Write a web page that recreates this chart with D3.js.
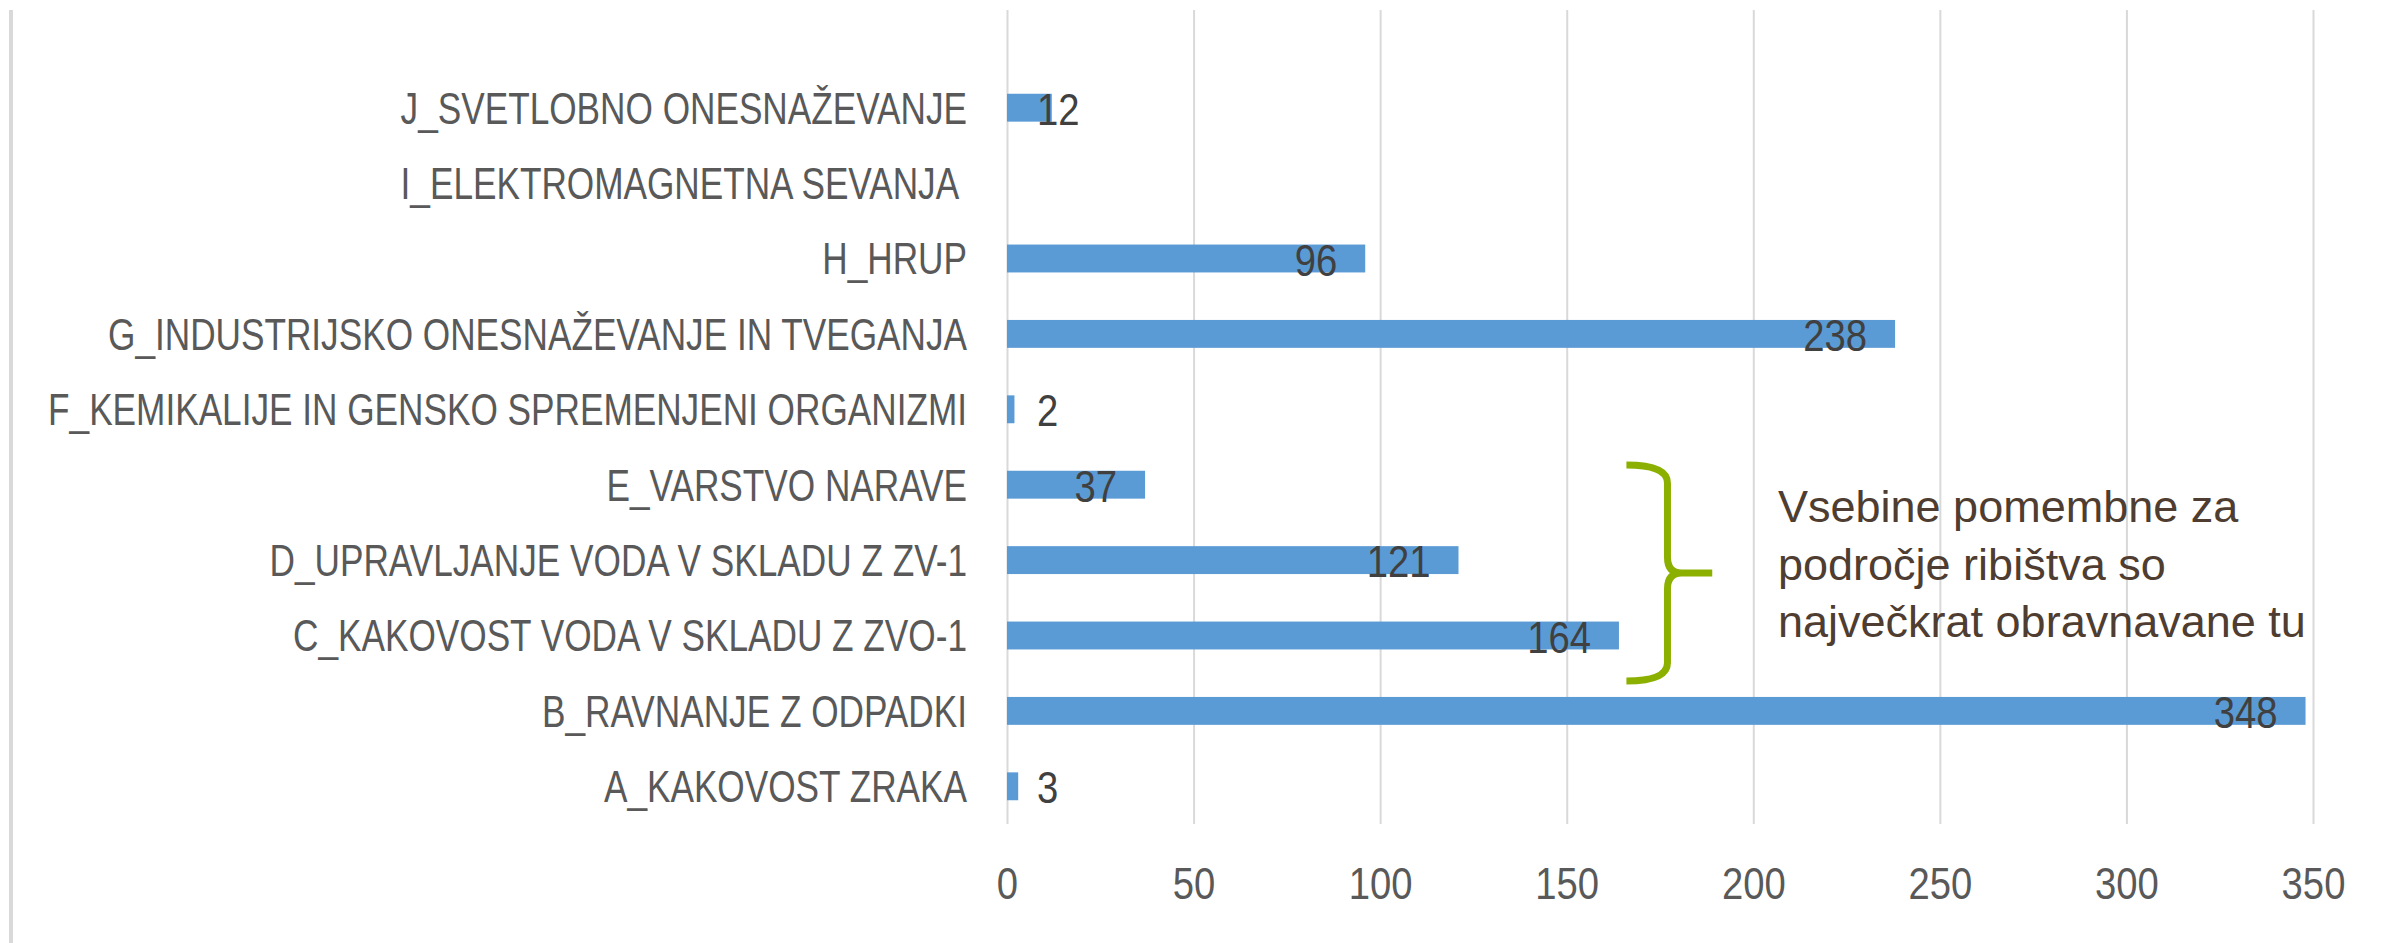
<!DOCTYPE html>
<html lang="en">
<head>
    <meta charset="UTF-8">
    <title>Vsebine po področjih</title>
    <script src="https://d3js.org/d3.v7.min.js"></script>
    <style>
        body { margin: 0; background: #fff; overflow: hidden; }
        text { white-space: pre; font-family: "Liberation Sans", Arial, sans-serif; }
        .cat-label { fill: #595959; font-size: 44px; }
        .tick-label { fill: #595959; font-size: 45px; }
        .value-label { fill: #404040; font-size: 45px; }
        .note { fill: #4e3d30; font-size: 45px; }
    </style>
</head>
<body>
    <div id="chart"></div>
    <script>
        // categories top to bottom, as in the picture
        const categories = [
            "J_SVETLOBNO ONESNAŽEVANJE",
            "I_ELEKTROMAGNETNA SEVANJA ",
            "H_HRUP",
            "G_INDUSTRIJSKO ONESNAŽEVANJE IN TVEGANJA",
            "F_KEMIKALIJE IN GENSKO SPREMENJENI ORGANIZMI",
            "E_VARSTVO NARAVE",
            "D_UPRAVLJANJE VODA V SKLADU Z ZV-1",
            "C_KAKOVOST VODA V SKLADU Z ZVO-1",
            "B_RAVNANJE Z ODPADKI",
            "A_KAKOVOST ZRAKA"
        ];
        const values = [12, null, 96, 238, 2, 37, 121, 164, 348, 3];
        const xTicks = [0, 50, 100, 150, 200, 250, 300, 350];
        const noteLines = [
            "Vsebine pomembne za",
            "področje ribištva so",
            "največkrat obravnavane tu"
        ];

        const width = 2382, height = 943;
        const plot = { left: 1007, right: 2313, top: 70, bottom: 824, gridTop: 10 };
        // the original font is a narrow one; squeeze the fallback sideways
        const labelSqueeze = 0.8, numberSqueeze = 0.85;

        const svg = d3.select("#chart").append("svg")
            .attr("width", width)
            .attr("height", height);

        svg.append("rect").attr("width", width).attr("height", height).attr("fill", "#fff");

        // outer frame line on the left
        svg.append("line")
            .attr("x1", 11).attr("x2", 11)
            .attr("y1", plot.gridTop).attr("y2", height)
            .attr("stroke", "#d9d9d9").attr("stroke-width", 4);

        const x = d3.scaleLinear().domain([0, 350]).range([plot.left, plot.right]);
        const y = d3.scaleBand().domain(categories)
            .range([plot.top, plot.bottom])
            .paddingInner(0.63).paddingOuter(0.315);

        // gridlines + tick labels
        const xAxis = svg.append("g")
            .attr("transform", `translate(0,${plot.bottom})`)
            .call(d3.axisBottom(x).tickValues(xTicks)
                .tickSize(-(plot.bottom - plot.gridTop))
                .tickPadding(43));
        xAxis.select(".domain").remove();
        xAxis.attr("font-size", null).attr("font-family", null);
        xAxis.selectAll(".tick line").attr("stroke", "#d9d9d9").attr("stroke-width", 2);
        xAxis.selectAll(".tick text")
            .attr("class", "tick-label")
            .attr("fill", null)
            .attr("transform", `scale(${numberSqueeze},1)`);

        // category labels
        svg.append("g").selectAll("g")
            .data(categories)
            .join("g")
            .attr("transform", d => `translate(${plot.left - 40},${y(d) + y.bandwidth() / 2})`)
            .append("text")
            .attr("class", "cat-label")
            .attr("dy", "0.36em")
            .attr("text-anchor", "end")
            .attr("transform", `scale(${labelSqueeze},1)`)
            .text(d => d);

        const rows = categories.map((c, i) => ({ cat: c, value: values[i] }))
            .filter(d => d.value != null);

        // bars
        svg.append("g").selectAll("rect")
            .data(rows)
            .join("rect")
            .attr("x", x(0))
            .attr("y", d => y(d.cat))
            .attr("width", d => x(d.value) - x(0))
            .attr("height", y.bandwidth())
            .attr("fill", "#5b9bd5");

        // value labels: inside end, or just right of the axis when the bar is too short
        svg.append("g").selectAll("g")
            .data(rows)
            .join("g")
            .each(function (d) {
                const g = d3.select(this);
                const t = g.append("text")
                    .attr("class", "value-label")
                    .attr("dy", "0.38em")
                    .attr("transform", `scale(${numberSqueeze},1)`)
                    .text(d.value);
                const w = t.node().getComputedTextLength() * numberSqueeze;
                const endX = x(d.value) - 28;
                const yc = y(d.cat) + y.bandwidth() / 2;
                if (endX - w >= x(0) + 30) {
                    g.attr("transform", `translate(${endX},${yc})`);
                    t.attr("text-anchor", "end");
                } else {
                    g.attr("transform", `translate(${x(0) + 30},${yc})`);
                    t.attr("text-anchor", "start");
                }
            });

        // curly brace over C..E
        const tipX = x(166), stemX = x(177), pointX = x(189);
        const braceTop = 465, braceBottom = 681, braceMid = (braceTop + braceBottom) / 2;
        const brace = d3.path();
        brace.moveTo(tipX, braceTop);
        brace.quadraticCurveTo(stemX, braceTop, stemX, braceTop + 18);
        brace.lineTo(stemX, braceMid - 16);
        brace.quadraticCurveTo(stemX, braceMid, stemX + 14, braceMid);
        brace.lineTo(pointX, braceMid);
        brace.moveTo(stemX + 14, braceMid);
        brace.quadraticCurveTo(stemX, braceMid, stemX, braceMid + 16);
        brace.lineTo(stemX, braceBottom - 18);
        brace.quadraticCurveTo(stemX, braceBottom, tipX, braceBottom);
        svg.append("path")
            .attr("d", brace.toString())
            .attr("fill", "none")
            .attr("stroke", "#8cb000")
            .attr("stroke-width", 7);

        svg.append("g").selectAll("text")
            .data(noteLines)
            .join("text")
            .attr("class", "note")
            .attr("x", 1778)
            .attr("y", (d, i) => 522 + i * 57.5)
            .text(d => d);
    </script>
</body>
</html>
